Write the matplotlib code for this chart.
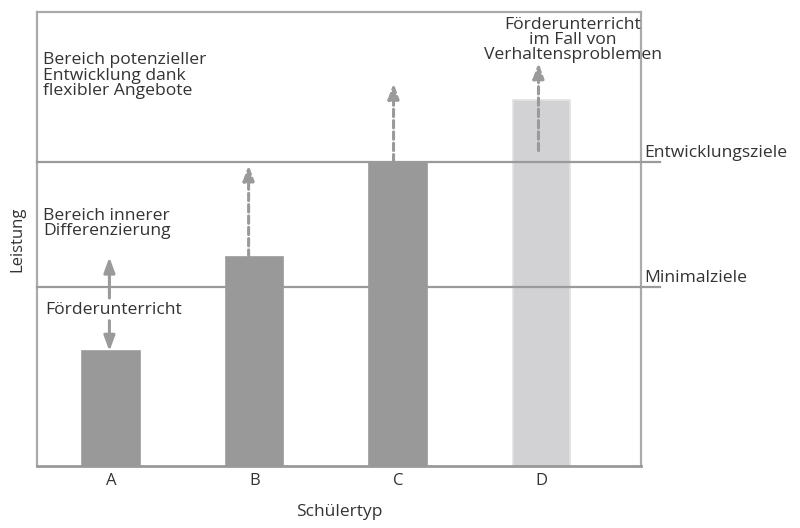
import matplotlib

matplotlib.use("Agg")
import matplotlib.pyplot as plt  # noqa: E402

plt.rcParams["font.family"] = ["Open Sans", "DejaVu Sans"]
NARROW = ["Liberation Sans Narrow", "Open Sans", "DejaVu Sans"]

# data
categories = ["A", "B", "C", "D"]
performance = [25.3, 46.0, 67.0, 80.6]
minimal_goal = 39.4
development_goal = 67.0
# arrows per student type: (start, end, dashed)
arrows_up = [(37.0, 46.0, False), (46.0, 66.3, True), (67.0, 84.3, True), (69.5, 88.8, True)]
arrow_down_a = (32.0, 25.3)

BAR_DARK = "#999999"
BAR_LIGHT = "#d2d2d4"
LINE_GRAY = "#9a9a9a"
TEXT = "#333333"
FS = 12.6
LS = 0.93

fig = plt.figure(figsize=(8.0, 5.28), dpi=100)
ax = fig.add_axes([0.046, 0.1174, 0.755, 0.8598])

x = list(range(len(categories)))
colors = [BAR_DARK, BAR_DARK, BAR_DARK, BAR_LIGHT]
edges = [BAR_DARK, BAR_DARK, BAR_DARK, "#e2e2e2"]
ax.bar(x, performance, width=0.40, color=colors, edgecolor=edges, linewidth=1.2, zorder=2)

xlim = (-0.516, 3.693)
ax.set_xlim(*xlim)
ax.set_ylim(0, 100)

line_end = 3.826
for level in (minimal_goal, development_goal):
    ax.plot([xlim[0], line_end], [level, level], color=LINE_GRAY, lw=1.6, clip_on=False, zorder=3)

ax.text(3.72, development_goal + 1.1, "Entwicklungsziele", fontsize=FS, color=TEXT, va="baseline")
ax.text(3.72, minimal_goal + 1.1, "Minimalziele", fontsize=FS, color=TEXT, va="baseline")


def draw_arrow(xpos, y0, y1, dashed):
    ax.annotate(
        "",
        xy=(xpos, y1),
        xytext=(xpos, y0),
        arrowprops=dict(
            arrowstyle="-|>,head_length=0.9,head_width=0.33",
            color=LINE_GRAY,
            lw=2.2,
            linestyle=(0, (2.4, 1.3)) if dashed else "-",
            shrinkA=0,
            shrinkB=0,
        ),
        zorder=4,
    )


offsets = [-0.01, -0.04, -0.03, -0.02]
for xi, (y0, y1, dashed), dx in zip(x, arrows_up, offsets):
    draw_arrow(xi + dx, y0, y1, dashed)
draw_arrow(x[0] - 0.01, arrow_down_a[0], arrow_down_a[1], False)

# multi-line texts anchored at the baseline of their last line
ax.text(-0.474, 81.8, "Bereich potenzieller\nEntwicklung dank\nflexibler Angebote",
        fontsize=FS, color=TEXT, va="baseline", linespacing=LS)
ax.text(-0.474, 50.9, "Bereich innerer\nDifferenzierung",
        fontsize=FS, color=TEXT, va="baseline", linespacing=LS)
ax.text(-0.46, 34.3, "Förderunterricht", fontsize=FS, color=TEXT, va="center")
ax.text(3.22, 89.6, "Förderunterricht\nim Fall von\nVerhaltensproblemen",
        fontsize=FS, color=TEXT, va="baseline", ha="center", linespacing=LS)

ax.set_xticks(x)
ax.set_xticklabels(categories, fontsize=12, color=TEXT, family=NARROW)
ax.set_yticks([])
ax.tick_params(axis="x", length=0, pad=5)
ax.set_xlabel("Schülertyp", fontsize=12.5, color=TEXT, labelpad=11, family=NARROW)
ax.set_ylabel("Leistung", fontsize=12, color=TEXT, labelpad=8, family=NARROW)

for name, spine in ax.spines.items():
    spine.set_color("#aaaaaa")
    spine.set_linewidth(1.6)
ax.spines["bottom"].set_color("#999999")
ax.spines["bottom"].set_linewidth(2.0)

fig.savefig("out.png", dpi=100)
